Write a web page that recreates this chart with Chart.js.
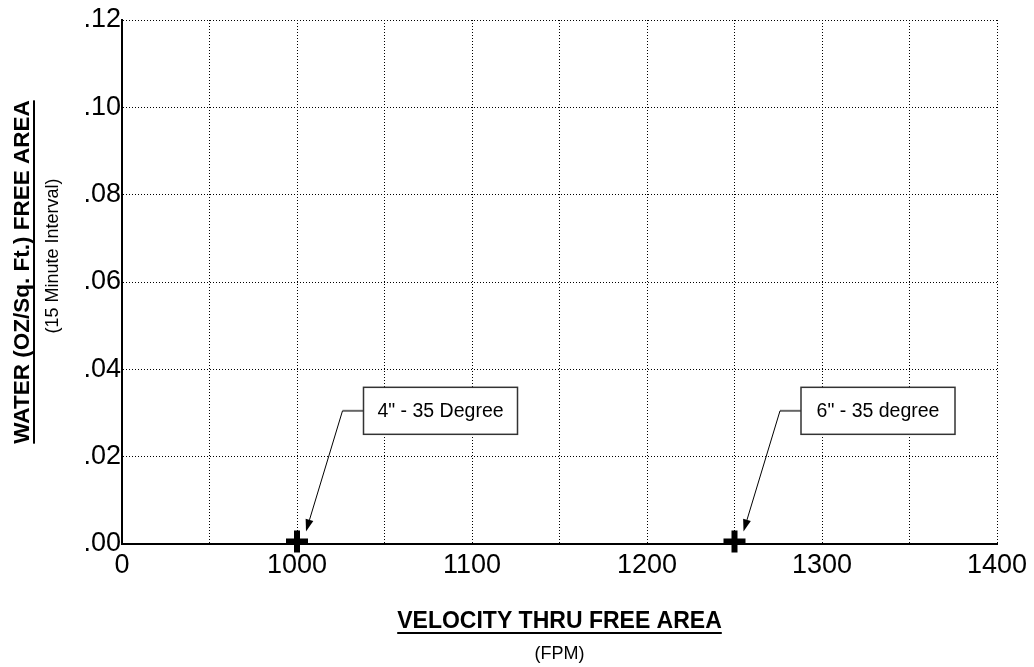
<!DOCTYPE html>
<html>
<head>
<meta charset="utf-8">
<script src="https://cdn.jsdelivr.net/npm/chart.js@4.4.0/dist/chart.umd.min.js"></script>
<style>
  html, body { margin: 0; padding: 0; background: #fff; }
  #wrap { width: 1034px; height: 667px; position: relative; }
</style>
</head>
<body>
<div id="wrap"><canvas id="chart"></canvas></div>
<script>
// measured points (velocity in FPM, water in oz/sq.ft)
const velocity = [1000, 1250];
const water = [0.0006, 0.0006];
const pointNames = ['4" - 35 Degree', '6" - 35 degree'];
// callout boxes: left edge (x) and middle (y), in data units
const noteX = [1038, 1288];
const noteY = [0.0305, 0.0305];

// axis ticks (x axis starts at 900 but its first label reads "0")
const xTicks = [900, 1000, 1100, 1200, 1300, 1400];
const xTickText = ['0', '1000', '1100', '1200', '1300', '1400'];
const yTicks = [0, 0.02, 0.04, 0.06, 0.08, 0.10, 0.12];
const yTickText = ['.00', '.02', '.04', '.06', '.08', '.10', '.12'];

const xTitle = 'VELOCITY THRU FREE AREA';
const xSubTitle = '(FPM)';
const yTitle = 'WATER (OZ/Sq. Ft.) FREE AREA';
const ySubTitle = '(15 Minute Interval)';

const FONT = '"Liberation Sans", Arial, Helvetica, sans-serif';

function underlined(ctx, text, x, y, font, under) {
  ctx.font = font;
  ctx.textAlign = 'center';
  ctx.textBaseline = 'middle';
  ctx.fillText(text, x, y);
  if (under) {
    const w = ctx.measureText(text).width;
    ctx.fillRect(x - w / 2, y + 10, w, 2);
  }
}

const decorations = {
  id: 'decorations',
  afterDraw(chart) {
    const ctx = chart.ctx;
    const xs = chart.scales.x, ys = chart.scales.y;
    const area = chart.chartArea;
    ctx.save();
    ctx.fillStyle = '#000';

    // axis titles
    const cx = (area.left + area.right) / 2;
    underlined(ctx, xTitle, cx, 622, 'bold 23px ' + FONT, true);
    underlined(ctx, xSubTitle, cx, 654, '18px ' + FONT, false);

    ctx.save();
    ctx.translate(23, 272);
    ctx.rotate(-Math.PI / 2);
    underlined(ctx, yTitle, 0, 0, 'bold 22.5px ' + FONT, true);
    ctx.restore();
    ctx.save();
    ctx.translate(53, 256);
    ctx.rotate(-Math.PI / 2);
    underlined(ctx, ySubTitle, 0, 0, '18px ' + FONT, false);
    ctx.restore();

    // callouts with arrows
    for (let i = 0; i < pointNames.length; i++) {
      const bx = xs.getPixelForValue(noteX[i]);
      const by = ys.getPixelForValue(noteY[i]);
      const px = xs.getPixelForValue(velocity[i]);
      const py = ys.getPixelForValue(water[i]);
      const w = 154, h = 47;
      const kx = bx - 21;
      const tx = px + 9, ty = py - 10;

      ctx.strokeStyle = '#666';
      ctx.lineWidth = 2;
      ctx.beginPath();
      ctx.moveTo(bx, by);
      ctx.lineTo(kx, by);
      ctx.stroke();

      const a = Math.atan2(ty - by, tx - kx);
      const len = 12, half = 4;
      const baseX = tx - len * Math.cos(a), baseY = ty - len * Math.sin(a);
      ctx.strokeStyle = '#000';
      ctx.lineWidth = 1;
      ctx.beginPath();
      ctx.moveTo(kx, by);
      ctx.lineTo(baseX, baseY);
      ctx.stroke();
      ctx.beginPath();
      ctx.moveTo(tx, ty);
      ctx.lineTo(baseX - half * Math.sin(a), baseY + half * Math.cos(a));
      ctx.lineTo(baseX + half * Math.sin(a), baseY - half * Math.cos(a));
      ctx.closePath();
      ctx.fillStyle = '#000';
      ctx.fill();

      ctx.fillStyle = '#fff';
      ctx.fillRect(bx, by - h / 2, w, h);
      ctx.strokeStyle = '#333';
      ctx.lineWidth = 1.5;
      ctx.strokeRect(bx, by - h / 2, w, h);
      ctx.fillStyle = '#000';
      ctx.font = '19.5px ' + FONT;
      ctx.textAlign = 'center';
      ctx.textBaseline = 'middle';
      ctx.fillText(pointNames[i], bx + w / 2, by + 1);
    }
    ctx.restore();
  }
};

const ctx = document.getElementById('chart').getContext('2d');
new Chart(ctx, {
  type: 'scatter',
  data: {
    datasets: [{
      data: velocity.map((v, i) => ({ x: v, y: water[i] })),
      pointStyle: 'cross',
      pointRadius: 11,
      pointBorderWidth: 6,
      borderColor: '#000',
      backgroundColor: '#000',
      showLine: false,
      clip: false
    }]
  },
  options: {
    responsive: true,
    maintainAspectRatio: false,
    devicePixelRatio: 1,
    animation: false,
    layout: { padding: { top: 20, right: 37, bottom: 0, left: 0 } },
    plugins: {
      legend: { display: false },
      tooltip: { enabled: false }
    },
    scales: {
      x: {
        type: 'linear',
        min: 900,
        max: 1400,
        afterFit: s => { s.height = 123; },
        grid: { color: '#000', lineWidth: 1, drawTicks: false },
        border: { display: true, color: '#000', width: 2, dash: [1, 2] },
        ticks: {
          stepSize: 50,
          autoSkip: false,
          maxRotation: 0,
          padding: 5,
          color: '#000',
          font: { family: FONT, size: 27 },
          callback: v => {
            const i = xTicks.indexOf(v);
            return i >= 0 ? xTickText[i] : '';
          }
        }
      },
      y: {
        type: 'linear',
        min: 0,
        max: 0.12,
        afterFit: s => { s.width = 122; },
        grid: { color: '#000', lineWidth: 1, drawTicks: false },
        border: { display: true, color: '#000', width: 2, dash: [1, 2] },
        ticks: {
          stepSize: 0.02,
          padding: 1,
          color: '#000',
          font: { family: FONT, size: 27 },
          callback: v => {
            const i = yTicks.findIndex(t => Math.abs(t - v) < 1e-9);
            return i >= 0 ? yTickText[i] : '';
          }
        }
      }
    }
  },
  plugins: [decorations]
});
</script>
</body>
</html>
